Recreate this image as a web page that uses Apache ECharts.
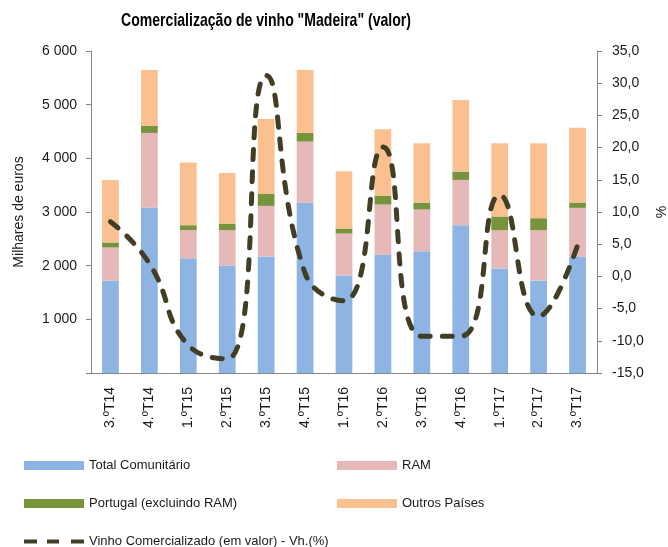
<!DOCTYPE html>
<html>
<head>
<meta charset="utf-8">
<script src="https://cdn.jsdelivr.net/npm/echarts@6/dist/echarts.min.js"></script>
<style>
  html, body { margin: 0; padding: 0; background: #fff; }
  #chart { width: 668px; height: 547px; }
</style>
</head>
<body>
<div id="chart"></div>
<script>
const quarters = ['3.ºT14', '4.ºT14', '1.ºT15', '2.ºT15', '3.ºT15', '4.ºT15', '1.ºT16',
  '2.ºT16', '3.ºT16', '4.ºT16', '1.ºT17', '2.ºT17', '3.ºT17'];

// milhares de euros
const totalComunitario = [1725, 3083, 2140, 2004, 2171, 3176, 1818, 2202, 2270, 2754, 1948, 1725, 2171];
const ram = [614, 1390, 521, 657, 943, 1135, 781, 937, 776, 844, 713, 936, 906];
const portugal = [93, 130, 93, 124, 223, 162, 93, 167, 130, 155, 255, 224, 99];
const outrosPaises = [1166, 1042, 1167, 943, 1396, 1172, 1067, 1235, 1104, 1334, 1364, 1395, 1396];

// variação homóloga (%)
const variacao = [8.5, 2.0, -10.7, -12.8, 31.2, 0.5, -3.8, 20.1, -9.3, -9.3, 12.6, -6.2, 4.8];

const titleText = 'Comercialização de vinho "Madeira" (valor)';

const font = 'Arial, "Liberation Sans", sans-serif';
const axisColor = '#868686';
const textColor = '#1a1a1a';
const lineColor = '#423d25';

const chart = echarts.init(document.getElementById('chart'));

function legendAt(name, left, top, extra) {
  return Object.assign({
    data: [name],
    left: left,
    top: top,
    itemWidth: 60,
    itemHeight: 9,
    itemGap: 0,
    icon: 'rect',
    selectedMode: false,
    textStyle: { fontFamily: font, fontSize: 13, color: textColor }
  }, extra || {});
}

const barSeries = (name, data, color) => ({
  name: name,
  type: 'bar',
  stack: 'valor',
  barWidth: '43%',
  data: data,
  itemStyle: { color: color },
  emphasis: { disabled: true }
});

chart.setOption({
  animation: false,
  // narrow bold title, as in the original
  graphic: [{
    type: 'text',
    x: 266,
    y: 21,
    scaleX: 0.74,
    style: {
      text: titleText,
      font: 'bold 19px Arial, "Liberation Sans", sans-serif',
      fill: '#000',
      align: 'center',
      verticalAlign: 'middle'
    }
  }],
  grid: { left: 91, right: 71, top: 51, bottom: 174, outerBoundsMode: 'none' },
  legend: [
    legendAt('Total Comunitário', 19, 454),
    legendAt('RAM', 332, 454),
    legendAt('Portugal (excluindo RAM)', 19, 492),
    legendAt('Outros Países', 332, 492),
    legendAt('Vinho Comercializado (em valor) - Vh.(%)', 19, 530, {
      icon: 'path://M0,0h13v4h-13z M23,0h12v4h-12z M47,0h13v4h-13z',
      itemHeight: 4,
      itemStyle: { color: lineColor, borderWidth: 0 },
      lineStyle: { width: 0 }
    })
  ],
  xAxis: {
    type: 'category',
    data: quarters,
    axisLine: { lineStyle: { color: axisColor } },
    axisTick: { length: 5, lineStyle: { color: axisColor } },
    axisLabel: { rotate: 90, margin: 14, fontFamily: font, fontSize: 14, color: textColor }
  },
  yAxis: [
    {
      type: 'value',
      min: 0,
      max: 6000,
      interval: 1000,
      name: 'Milhares de euros',
      nameLocation: 'middle',
      nameGap: 65,
      nameTextStyle: { fontFamily: font, fontSize: 14, color: textColor },
      axisLine: { show: true, lineStyle: { color: axisColor } },
      axisTick: { show: true, length: 5, lineStyle: { color: axisColor } },
      splitLine: { show: false },
      axisLabel: {
        fontFamily: font, fontSize: 14, color: textColor, margin: 14,
        formatter: v => v === 0 ? '' : String(v).replace(/\B(?=(\d{3})+(?!\d))/g, ' ')
      }
    },
    {
      type: 'value',
      min: -15,
      max: 35,
      interval: 5,
      name: '%',
      nameLocation: 'middle',
      nameGap: 55,
      nameTextStyle: { fontFamily: font, fontSize: 14, color: textColor },
      axisLine: { show: true, lineStyle: { color: axisColor } },
      axisTick: { show: true, length: 5, lineStyle: { color: axisColor } },
      splitLine: { show: false },
      axisLabel: {
        fontFamily: font, fontSize: 14, color: textColor, margin: 15,
        formatter: v => v.toFixed(1).replace('.', ',')
      }
    }
  ],
  series: [
    barSeries('Total Comunitário', totalComunitario, '#8db4e2'),
    barSeries('RAM', ram, '#e6b9b8'),
    barSeries('Portugal (excluindo RAM)', portugal, '#77933c'),
    barSeries('Outros Países', outrosPaises, '#fac090'),
    {
      name: 'Vinho Comercializado (em valor) - Vh.(%)',
      type: 'line',
      yAxisIndex: 1,
      data: variacao,
      smooth: 0.5,
      symbol: 'none',
      z: 5,
      itemStyle: { color: lineColor },
      lineStyle: { color: lineColor, width: 5, type: [10, 12], cap: 'round' },
      emphasis: { disabled: true }
    }
  ]
});
</script>
</body>
</html>
